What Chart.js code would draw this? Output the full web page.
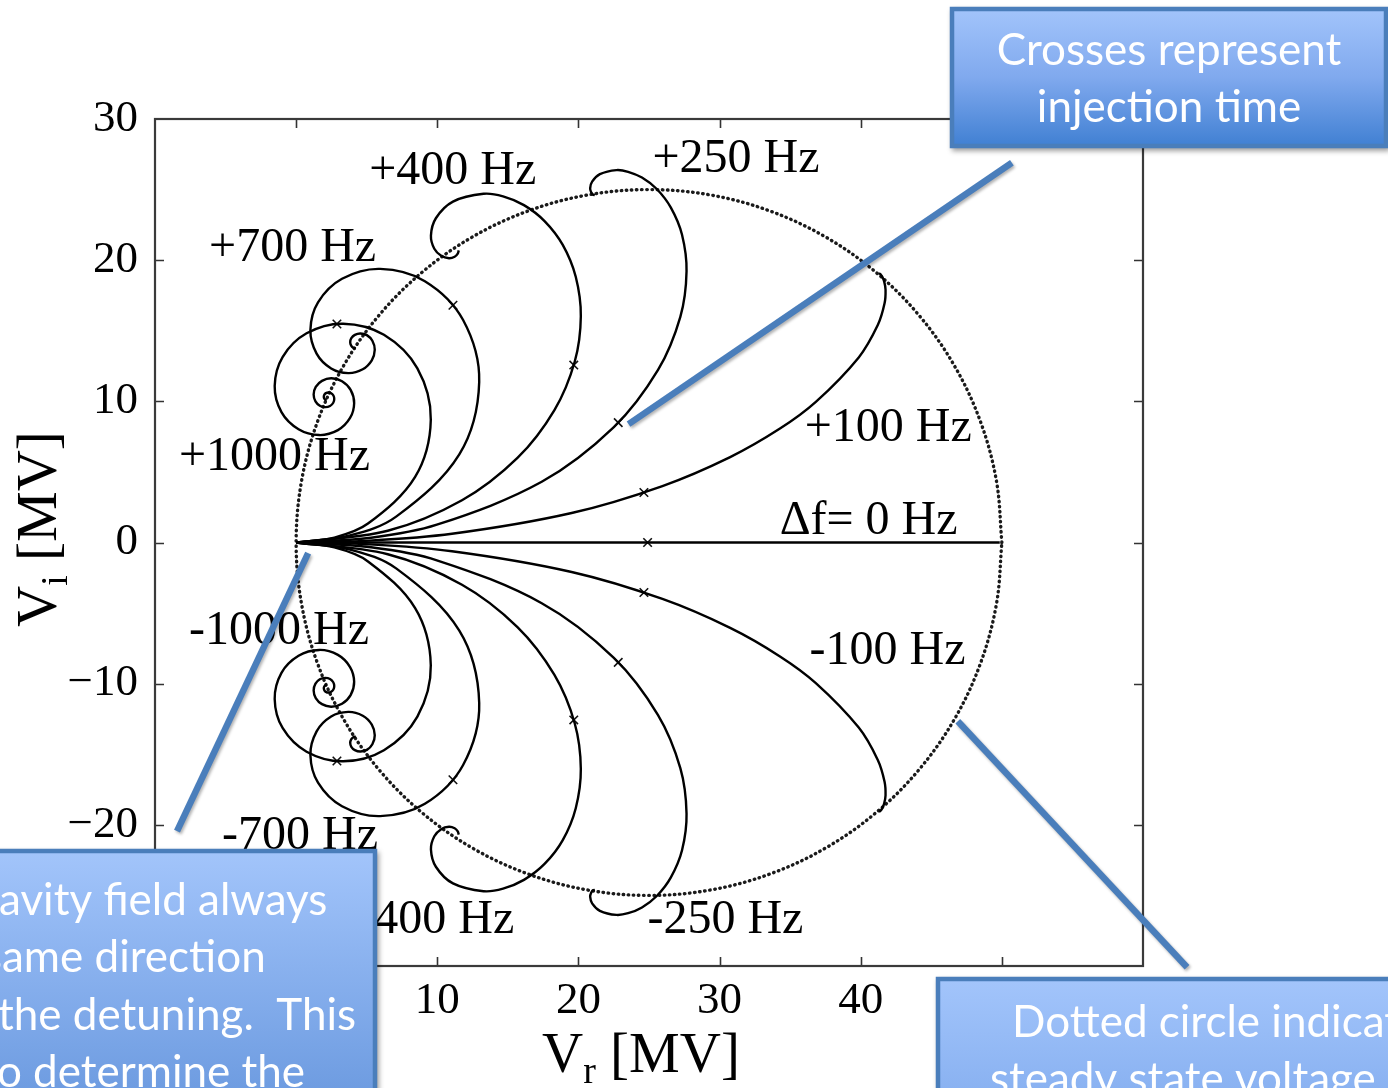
<!DOCTYPE html>
<html>
<head>
<meta charset="utf-8">
<script src="https://cdn.jsdelivr.net/npm/chart.js@4.4.1/dist/chart.umd.min.js"></script>
<style>
html,body{margin:0;padding:0;background:#fff;}
#wrap{position:relative;width:1388px;height:1088px;}
</style>
</head>
<body>
<div id="wrap"><canvas id="c" width="1388" height="1088"></canvas></div>
<script>
// ---------- data (Vr, Vi in MV) ----------
const dfLabels = ['0 Hz','+100 Hz','+250 Hz','+400 Hz','+700 Hz','+1000 Hz','-100 Hz','-250 Hz','-400 Hz','-700 Hz','-1000 Hz'];

const traj0 = [[0,0],[24.9,0],[49.85,0]];
const trajP100 = [[0,0],[4.76,0.11],[11.04,0.62],[19.52,2.09],[25.95,4.00],[30.75,6.05],[34.28,8.07],[36.82,9.96],[39.86,13.11],[41.21,15.40],[41.69,16.94],[41.76,17.91],[41.66,18.50],[41.52,18.83],[41.39,19.01],[41.29,19.08]];
const trajP250 = [[0,0],[5.31,0.34],[9.97,1.26],[17.40,4.30],[22.51,8.17],[25.64,12.22],[27.22,15.98],[27.66,19.21],[27.34,21.80],[26.55,23.72],[25.55,25.04],[24.50,25.85],[23.52,26.26],[22.69,26.38],[21.52,26.09],[20.97,25.56],[20.83,25.09],[20.91,24.79],[21.04,24.64],[21.16,24.61]];
const trajP400 = [[0,0],[6.49,0.83],[11.75,2.99],[15.68,5.99],[18.30,9.38],[19.74,12.82],[20.17,16.03],[19.81,18.82],[18.89,21.08],[17.60,22.77],[16.14,23.90],[14.66,24.52],[13.28,24.70],[11.11,24.15],[9.90,22.97],[9.55,21.74],[9.79,20.81],[10.30,20.29],[10.83,20.14],[11.23,20.24],[11.45,20.46],[11.52,20.69]];
const trajP700 = [[0,0],[3.82,0.50],[7.11,1.85],[11.56,6.24],[12.97,11.37],[11.83,15.76],[9.12,18.51],[5.95,19.38],[3.25,18.68],[1.55,17.01],[1.01,15.05],[1.45,13.38],[2.48,12.33],[3.69,12.00],[4.72,12.27],[5.36,12.90],[5.57,13.65],[5.40,14.29],[5.01,14.69],[4.55,14.81],[4.16,14.71],[3.91,14.47],[3.83,14.18],[3.90,13.94],[4.05,13.79],[4.22,13.74]];
const trajP1000 = [[0,0],[2.71,0.35],[5.09,1.34],[8.43,4.65],[9.54,8.70],[8.59,12.33],[6.22,14.71],[3.33,15.50],[0.74,14.82],[-0.96,13.14],[-1.52,11.08],[-1.04,9.23],[0.17,8.02],[1.64,7.61],[2.96,7.96],[3.82,8.82],[4.11,9.87],[3.86,10.81],[3.25,11.42],[2.50,11.63],[1.83,11.45],[1.39,11.02],[1.24,10.48],[1.37,10.00],[1.68,9.69],[2.06,9.59],[2.40,9.67],[2.63,9.90],[2.70,10.17],[2.64,10.41],[2.48,10.57],[2.28,10.63],[2.11,10.58],[2.00,10.47],[1.96,10.33],[1.99,10.20],[2.07,10.12],[2.17,10.10]];
const trajN100 = [[0,0],[4.76,-0.11],[11.04,-0.62],[19.52,-2.09],[25.95,-4.00],[30.75,-6.05],[34.28,-8.07],[36.82,-9.96],[39.86,-13.11],[41.21,-15.40],[41.69,-16.94],[41.76,-17.91],[41.66,-18.50],[41.52,-18.83],[41.39,-19.01],[41.29,-19.08]];
const trajN250 = [[0,0],[5.31,-0.34],[9.97,-1.26],[17.40,-4.30],[22.51,-8.17],[25.64,-12.22],[27.22,-15.98],[27.66,-19.21],[27.34,-21.80],[26.55,-23.72],[25.55,-25.04],[24.50,-25.85],[23.52,-26.26],[22.69,-26.38],[21.52,-26.09],[20.97,-25.56],[20.83,-25.09],[20.91,-24.79],[21.04,-24.64],[21.16,-24.61]];
const trajN400 = [[0,0],[6.49,-0.83],[11.75,-2.99],[15.68,-5.99],[18.30,-9.38],[19.74,-12.82],[20.17,-16.03],[19.81,-18.82],[18.89,-21.08],[17.60,-22.77],[16.14,-23.90],[14.66,-24.52],[13.28,-24.70],[11.11,-24.15],[9.90,-22.97],[9.55,-21.74],[9.79,-20.81],[10.30,-20.29],[10.83,-20.14],[11.23,-20.24],[11.45,-20.46],[11.52,-20.69]];
const trajN700 = [[0,0],[3.82,-0.50],[7.11,-1.85],[11.56,-6.24],[12.97,-11.37],[11.83,-15.76],[9.12,-18.51],[5.95,-19.38],[3.25,-18.68],[1.55,-17.01],[1.01,-15.05],[1.45,-13.38],[2.48,-12.33],[3.69,-12.00],[4.72,-12.27],[5.36,-12.90],[5.57,-13.65],[5.40,-14.29],[5.01,-14.69],[4.55,-14.81],[4.16,-14.71],[3.91,-14.47],[3.83,-14.18],[3.90,-13.94],[4.05,-13.79],[4.22,-13.74]];
const trajN1000 = [[0,0],[2.71,-0.35],[5.09,-1.34],[8.43,-4.65],[9.54,-8.70],[8.59,-12.33],[6.22,-14.71],[3.33,-15.50],[0.74,-14.82],[-0.96,-13.14],[-1.52,-11.08],[-1.04,-9.23],[0.17,-8.02],[1.64,-7.61],[2.96,-7.96],[3.82,-8.82],[4.11,-9.87],[3.86,-10.81],[3.25,-11.42],[2.50,-11.63],[1.83,-11.45],[1.39,-11.02],[1.24,-10.48],[1.37,-10.00],[1.68,-9.69],[2.06,-9.59],[2.40,-9.67],[2.63,-9.90],[2.70,-10.17],[2.64,-10.41],[2.48,-10.57],[2.28,-10.63],[2.11,-10.58],[2.00,-10.47],[1.96,-10.33],[1.99,-10.20],[2.07,-10.12],[2.17,-10.10]];

// steady-state circle (dotted)
const steadyCircle = [[50,0],[49.62,4.34],[48.49,8.55],[46.65,12.5],[44.15,16.07],[41.07,19.15],[37.5,21.65],[33.55,23.49],[29.34,24.62],[25,25],[20.66,24.62],[16.45,23.49],[12.5,21.65],[8.93,19.15],[5.85,16.07],[3.35,12.5],[1.51,8.55],[0.38,4.34],[0,0],[0.38,-4.34],[1.51,-8.55],[3.35,-12.5],[5.85,-16.07],[8.93,-19.15],[12.5,-21.65],[16.45,-23.49],[20.66,-24.62],[25,-25],[29.34,-24.62],[33.55,-23.49],[37.5,-21.65],[41.07,-19.15],[44.15,-16.07],[46.65,-12.5],[48.49,-8.55],[49.62,-4.34],[50,0]];

// injection-time crosses
const crossVr = [24.9,24.64,22.82,19.67,11.11,2.89,24.64,22.82,19.67,11.11,2.89];
const crossVi = [0,3.54,8.49,12.57,16.81,15.48,-3.54,-8.49,-12.57,-16.81,-15.48];

// axis ticks
const xTickValues = [-10,0,10,20,30,40,50,60];
const yTickValues = [-30,-20,-10,0,10,20,30];

// curve annotations (left edge / vertical centre, data units)
const noteText = ['+400 Hz','+250 Hz','+700 Hz','+1000 Hz','+100 Hz','\u0394f= 0 Hz','-1000 Hz','-100 Hz','-700 Hz','-400 Hz','-250 Hz'];
const noteVr = [5.18,25.25,-6.17,-8.3,36.03,34.26,-7.59,36.38,-5.25,4.4,24.89];
const noteVi = [26.26,27.11,20.84,6.05,8.11,1.5,-6.29,-7.7,-20.83,-26.8,-26.8];

// callout pointer lines (data units)
const pointerFrom = [[50.71,26.90],[0.85,-0.76],[46.88,-12.66]];
const pointerTo = [[23.55,8.39],[-8.44,-20.45],[63.12,-30.09]];

// callout texts
const calloutTop = ['Crosses represent','injection time'];
const calloutLeftHidden = ['C','starts in the s','regardless of ','helps t'];
const calloutLeftShown = ['avity field always','ame direction','the detuning.  This','o determine the'];
const calloutRight = ['Dotted circle indicates','steady state voltage'];

// ---------- chart ----------
const toXY = arr => arr.map(p => ({x:p[0], y:p[1]}));
const trajs = [traj0,trajP100,trajP250,trajP400,trajP700,trajP1000,trajN100,trajN250,trajN400,trajN700,trajN1000];

const datasets = trajs.map((t,i) => ({
  label: dfLabels[i], data: toXY(t), showLine: true, tension: 0.35,
  borderColor: '#000', borderWidth: 2.4, pointRadius: 0, fill: false
}));
datasets.push({
  label:'steady state', data: toXY(steadyCircle), showLine: true, tension: 0.35,
  borderColor:'#1a1a1a', borderWidth: 3.4, borderDash:[0.5,4.6], borderCapStyle:'round',
  pointRadius:0, fill:false
});
datasets.push({
  label:'injection', data: crossVr.map((v,i)=>({x:v,y:crossVi[i]})), showLine:false,
  pointStyle:'crossRot', pointRadius:6, borderColor:'#111', borderWidth:1.6, backgroundColor:'#111'
});

const fmt = v => v < 0 ? '\u2212' + Math.abs(v) : String(v);
const TL = 9;

function subText(ctx, parts){
  let x = 0;
  parts.forEach(p => {
    ctx.font = p.size + 'px "Liberation Serif"';
    ctx.fillText(p.t, x, p.dy || 0);
    x += ctx.measureText(p.t).width;
  });
}

function drawBox(ctx, bx, by, bw, bh, stops) {
  ctx.save();
  ctx.shadowColor = 'rgba(0,0,0,0.38)';
  ctx.shadowBlur = 5; ctx.shadowOffsetX = 2; ctx.shadowOffsetY = 3;
  const g = ctx.createLinearGradient(0, by, 0, by + bh);
  stops.forEach(s => g.addColorStop(s[0], s[1]));
  ctx.fillStyle = g;
  ctx.fillRect(bx, by, bw, bh);
  ctx.restore();
  ctx.save();
  ctx.strokeStyle = '#4a7ebb'; ctx.lineWidth = 4.5;
  ctx.strokeRect(bx + 2, by + 2, bw - 4, bh - 4);
  ctx.restore();
}

const overlay = {
  id: 'overlay',
  afterDatasetsDraw(chart) {
    const {ctx, chartArea:a, scales:{x, y}} = chart;
    ctx.save();
    ctx.strokeStyle = '#333'; ctx.lineWidth = 1.6;
    ctx.beginPath();
    x.ticks.forEach(t => {
      if (t.value <= x.min || t.value >= x.max) return;
      const p = Math.round(x.getPixelForValue(t.value)) + 0.5;
      ctx.moveTo(p, a.bottom); ctx.lineTo(p, a.bottom - TL);
      ctx.moveTo(p, a.top); ctx.lineTo(p, a.top + TL);
    });
    y.ticks.forEach(t => {
      if (t.value <= y.min || t.value >= y.max) return;
      const p = Math.round(y.getPixelForValue(t.value)) + 0.5;
      ctx.moveTo(a.left, p); ctx.lineTo(a.left + TL, p);
      ctx.moveTo(a.right, p); ctx.lineTo(a.right - TL, p);
    });
    ctx.stroke();
    ctx.strokeStyle = '#3a3a3a'; ctx.lineWidth = 2.2;
    ctx.strokeRect(a.left, a.top, a.right - a.left, a.bottom - a.top);
    ctx.restore();
  },
  afterDraw(chart) {
    const {ctx, scales:{x, y}} = chart;
    // curve notes
    ctx.save();
    ctx.fillStyle = '#000';
    ctx.font = '48px "Liberation Serif"';
    ctx.textBaseline = 'middle'; ctx.textAlign = 'left';
    noteText.forEach((t,i) => ctx.fillText(t, x.getPixelForValue(noteVr[i]), y.getPixelForValue(noteVi[i])));
    ctx.restore();

    // axis titles
    ctx.save();
    ctx.fillStyle = '#000'; ctx.textBaseline = 'alphabetic';
    ctx.translate(542, 1072);
    subText(ctx, [{t:'V', size:57},{t:'r', size:38, dy:11},{t:' [MV]', size:57}]);
    ctx.restore();
    ctx.save();
    ctx.fillStyle = '#000'; ctx.textBaseline = 'alphabetic';
    ctx.translate(56, 627); ctx.rotate(-Math.PI/2);
    subText(ctx, [{t:'V', size:57},{t:'i', size:38, dy:11},{t:' [MV]', size:57}]);
    ctx.restore();

    // pointer lines
    ctx.save();
    ctx.strokeStyle = '#4a7ebb'; ctx.lineWidth = 6.5; ctx.lineCap = 'butt';
    ctx.shadowColor = 'rgba(0,0,0,0.3)'; ctx.shadowBlur = 3; ctx.shadowOffsetX = 1.5; ctx.shadowOffsetY = 2;
    pointerFrom.forEach((f,i) => {
      ctx.beginPath();
      ctx.moveTo(x.getPixelForValue(f[0]), y.getPixelForValue(f[1]));
      ctx.lineTo(x.getPixelForValue(pointerTo[i][0]), y.getPixelForValue(pointerTo[i][1]));
      ctx.stroke();
    });
    ctx.restore();

    // callout boxes
    drawBox(ctx, 950, 7, 438, 141, [[0,'#a3c5fb'],[0.5,'#80a9ee'],[1,'#3f7fd2']]);
    drawBox(ctx, -20, 849, 397, 260, [[0,'#a3c5fb'],[1,'#6a99df']]);
    drawBox(ctx, 936, 977, 470, 130, [[0,'#a3c5fb'],[1,'#86aff0']]);

    ctx.save();
    ctx.font = '100px Lato';
    const fs = 100 * 345 / ctx.measureText(calloutTop[0]).width;
    ctx.font = fs.toFixed(1) + 'px Lato';
    ctx.fillStyle = '#fff'; ctx.textBaseline = 'alphabetic';
    ctx.textAlign = 'center';
    ctx.fillText(calloutTop[0], 1169, 65);
    ctx.fillText(calloutTop[1], 1169, 122);
    ctx.textAlign = 'left';
    const shownStart = [-1, 2, -2, -3], leftBase = [915, 972, 1030, 1087];
    calloutLeftShown.forEach((t,i) => {
      const hid = calloutLeftHidden[i];
      const x0 = shownStart[i] - ctx.measureText(hid).width;
      ctx.fillText(hid + t, x0, leftBase[i]);
    });
    ctx.fillText(calloutRight[0], 1012, 1037);
    ctx.fillText(calloutRight[1], 990, 1094);
    ctx.restore();
  }
};

new Chart(document.getElementById('c'), {
  type: 'scatter',
  data: { datasets },
  options: {
    responsive: false, devicePixelRatio: 1, animation: false,
    layout: { padding: { left: 0, right: 245, top: 119, bottom: 0 } },
    plugins: { legend: { display: false }, tooltip: { enabled: false } },
    scales: {
      x: {
        type: 'linear', min: -10, max: 60,
        afterBuildTicks: s => { s.ticks = xTickValues.map(v => ({value: v})); },
        afterFit: s => { s.height = 122; },
        grid: { display: false, drawTicks: false }, border: { display: false },
        ticks: { color: '#000', padding: 8, maxRotation: 0, autoSkip: false,
                 font: { family: 'Liberation Serif', size: 45 }, callback: v => fmt(v) }
      },
      y: {
        type: 'linear', min: -30, max: 30,
        afterBuildTicks: s => { s.ticks = yTickValues.map(v => ({value: v})); },
        afterFit: s => { s.width = 155; },
        grid: { display: false, drawTicks: false }, border: { display: false },
        ticks: { color: '#000', padding: 17, autoSkip: false,
                 font: { family: 'Liberation Serif', size: 45 }, callback: v => fmt(v) }
      }
    }
  },
  plugins: [overlay]
});
</script>
</body>
</html>
